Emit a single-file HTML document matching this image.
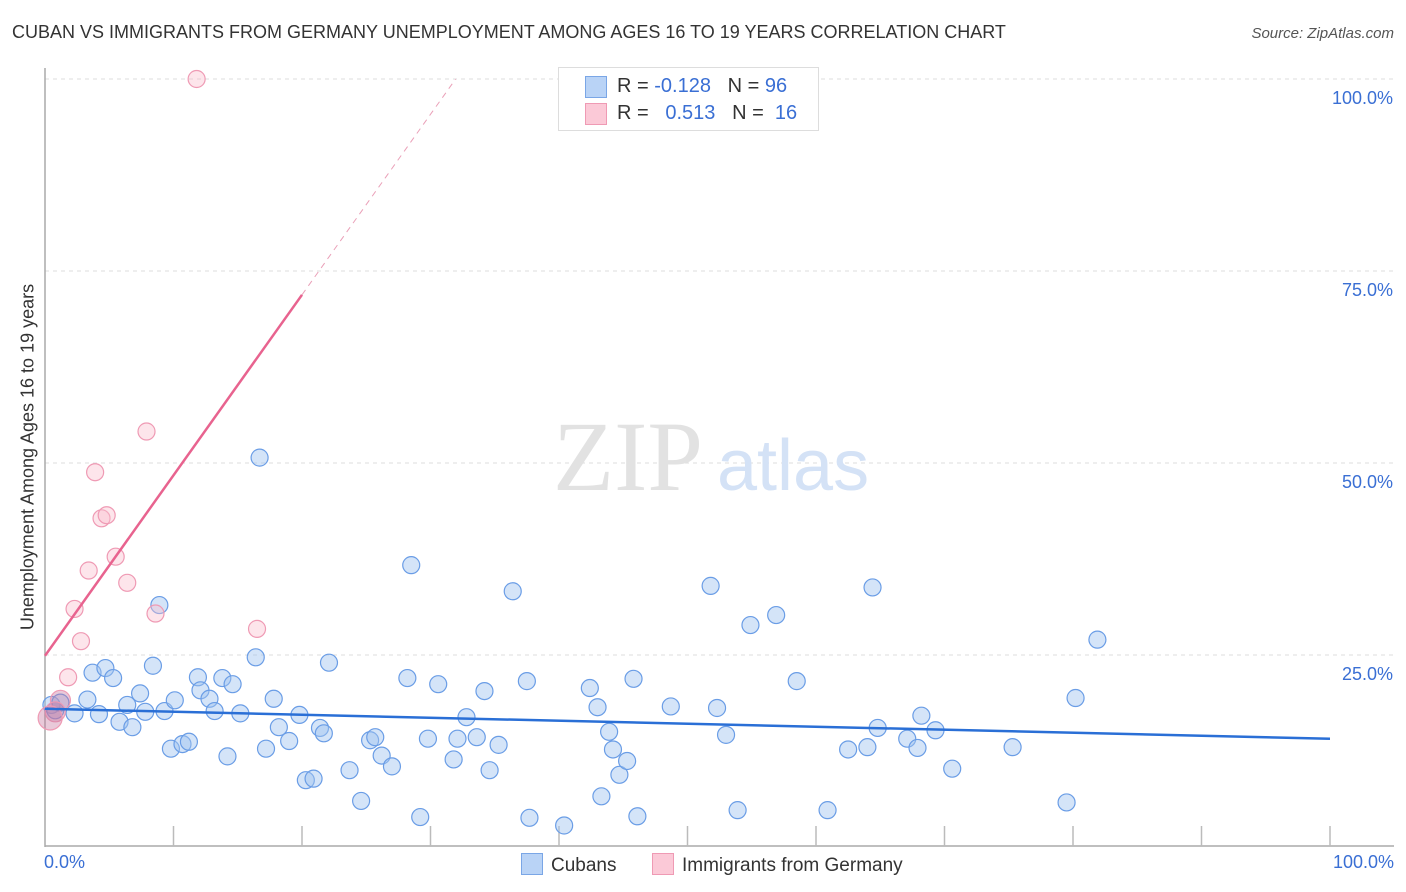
<!DOCTYPE html>
<html><head><meta charset="utf-8"><style>
body{margin:0;background:#fff;font-family:"Liberation Sans",sans-serif;}
#wrap{position:relative;width:1406px;height:892px;overflow:hidden;}
.t{position:absolute;white-space:nowrap;}
</style></head><body>
<div id="wrap">
<div class="t" style="left:12px;top:22px;font-size:18px;color:#333;">CUBAN VS IMMIGRANTS FROM GERMANY UNEMPLOYMENT AMONG AGES 16 TO 19 YEARS CORRELATION CHART</div>
<div class="t" style="right:12px;top:25px;font-size:15px;color:#555;font-style:italic;">Source: ZipAtlas.com</div>
<svg id="svg" width="1406" height="892" style="position:absolute;left:0;top:0"></svg>
</div>
<script>
const blueX=[0.5,0.8,1.2,2.3,3.3,3.7,4.2,4.7,5.3,5.8,6.4,6.8,7.4,7.8,8.4,8.9,9.3,9.8,10.1,10.7,11.2,11.9,12.1,12.8,13.2,13.8,14.2,14.6,15.2,16.4,16.7,17.2,17.8,18.2,19.0,19.8,20.3,20.9,21.4,21.7,22.1,23.7,24.6,25.3,25.7,26.2,27.0,28.2,28.5,29.2,29.8,30.6,31.8,32.1,32.8,33.6,34.2,34.6,35.3,36.4,37.5,37.7,40.4,42.4,43.0,43.3,43.9,44.2,44.7,45.3,45.8,46.1,48.7,51.8,52.3,53.0,53.9,54.9,56.9,58.5,60.9,62.5,64.0,64.4,64.8,67.1,67.9,68.2,69.3,70.6,75.3,79.5,80.2,81.9];
const blueY=[18.5,17.8,18.8,17.4,19.2,22.7,17.3,23.3,22.0,16.3,18.5,15.6,20.0,17.6,23.6,31.5,17.7,12.8,19.1,13.4,13.7,22.1,20.4,19.3,17.7,22.0,11.8,21.2,17.4,24.7,50.7,12.8,19.3,15.6,13.8,17.2,8.7,8.9,15.5,14.8,24.0,10.0,6.0,13.9,14.3,11.9,10.5,22.0,36.7,3.9,14.1,21.2,11.4,14.1,16.9,14.3,20.3,10.0,13.3,33.3,21.6,3.8,2.8,20.7,18.2,6.6,15.0,12.7,9.4,11.2,21.9,4.0,18.3,34.0,18.1,14.6,4.8,28.9,30.2,21.6,4.8,12.7,13.0,33.8,15.5,14.1,12.9,17.1,15.2,10.2,13.0,5.8,19.4,27.0];
const pinkX=[11.8,7.9,3.9,4.4,4.8,5.5,3.4,6.4,2.3,8.6,16.5,2.8,1.8,1.2,0.8,0.4];
const pinkY=[100,54.1,48.8,42.8,43.2,37.8,36.0,34.4,31.0,30.4,28.4,26.8,22.1,19.1,17.6,16.8];
const blueTrend=[18.0,14.1];
const pinkTrend=[24.9,2.35];
const yTicks=[25,50,75,100];
const yTickLabels=["25.0%","50.0%","75.0%","100.0%"];
const NS="http://www.w3.org/2000/svg";
const svg=document.getElementById('svg');
const X0=45,X1=1330,Y0=847,Y1=79;
const sx=v=>X0+(X1-X0)*v/100, sy=v=>Y0-(Y0-Y1)*v/100;
function mk(tag,attrs,parent){const e=document.createElementNS(NS,tag);for(const k in attrs)e.setAttribute(k,attrs[k]);(parent||svg).appendChild(e);return e;}
yTicks.forEach((v,i)=>{
 const g=mk('line',{x1:X0,x2:1394,y1:sy(v),y2:sy(v),stroke:'#ddd','stroke-dasharray':'4,4'});
 
 
 const t=mk('text',{x:1393,y:sy(v)+25,'text-anchor':'end','font-size':18,fill:'#3a6fd4','font-family':'Liberation Sans, sans-serif'});
 t.textContent=yTickLabels[i];
 
 
});
let ax=mk('line',{x1:X0,x2:X0,y1:68,y2:847,stroke:'#aaa','stroke-width':1.5});


ax=mk('line',{x1:X0,x2:1394,y1:846,y2:846,stroke:'#aaa','stroke-width':1.5});


for(let i=1;i<=10;i++){const tk=mk('line',{x1:sx(i*10),x2:sx(i*10),y1:826,y2:846,stroke:'#bbb','stroke-width':1.5});

}
// watermark
let wm=mk('text',{x:553,y:490,'font-size':100,fill:'#e2e2e2','font-family':'Liberation Serif, serif'});wm.textContent='ZIP';


wm=mk('text',{x:717,y:490,'font-size':72,fill:'#d4e2f6','font-family':'Liberation Sans, sans-serif'});wm.textContent='atlas';


blueX.forEach((x,i)=>{const c=mk('circle',{cx:sx(x),cy:sy(blueY[i]),r:8.5,fill:'rgba(160,195,240,0.45)',stroke:'#6a9de6','stroke-width':1.2});

});
pinkX.forEach((x,i)=>{const big=i>=13;const c=mk('circle',{cx:sx(x),cy:sy(pinkY[i]),r:big?(i==15?12:10):8.5,fill:big?'rgba(200,120,160,0.4)':'rgba(250,190,205,0.4)',stroke:'#ef9ab4','stroke-width':1.2});

});
let l=mk('line',{x1:sx(0),y1:sy(blueTrend[0]),x2:sx(100),y2:sy(blueTrend[1]),stroke:'#2a6fd6','stroke-width':2.5});


const pxEnd=20, pxMax=(100-pinkTrend[0])/pinkTrend[1];
l=mk('line',{x1:sx(0),y1:sy(pinkTrend[0]),x2:sx(pxEnd),y2:sy(pinkTrend[0]+pinkTrend[1]*pxEnd),stroke:'#e8638f','stroke-width':2.5});


l=mk('line',{x1:sx(pxEnd),y1:sy(pinkTrend[0]+pinkTrend[1]*pxEnd),x2:sx(pxMax),y2:sy(100),stroke:'#eaa0b8','stroke-width':1,'stroke-dasharray':'6,5'});


</script>
<div class="t" style="left:28px;top:457px;font-size:18px;color:#333;transform:translate(-50%,-50%) rotate(-90deg);">Unemployment Among Ages 16 to 19 years</div>
<div class="t" style="left:44px;top:852px;font-size:18px;color:#3a6fd4;">0.0%</div>
<div class="t" style="right:12px;top:852px;font-size:18px;color:#3a6fd4;">100.0%</div>
<div style="position:absolute;left:558px;top:67px;width:259px;height:62px;border:1px solid #ddd;background:#fff;font-size:20px;">
 <div style="position:absolute;left:26px;top:8px;width:20px;height:20px;background:#b9d3f6;border:1px solid #7aa6e6;"></div>
 <div class="t" style="left:58px;top:7px;color:#333;">R = <span style="color:#3a6fd4">-0.128</span>&nbsp;&nbsp;&nbsp;N = <span style="color:#3a6fd4">96</span></div>
 <div style="position:absolute;left:26px;top:35px;width:20px;height:20px;background:#fbc9d7;border:1px solid #ef9ab4;"></div>
 <div class="t" style="left:58px;top:34px;color:#333;">R = &nbsp;&nbsp;<span style="color:#3a6fd4">0.513</span>&nbsp;&nbsp;&nbsp;N = &nbsp;<span style="color:#3a6fd4">16</span></div>
</div>
<div style="position:absolute;left:521px;top:853px;font-size:19px;color:#333;">
 <span style="display:inline-block;width:20px;height:20px;background:#b9d3f6;border:1px solid #7aa6e6;vertical-align:-4px;margin-right:8px;"></span>Cubans</div>
<div style="position:absolute;left:652px;top:853px;font-size:19px;color:#333;">
 <span style="display:inline-block;width:20px;height:20px;background:#fbc9d7;border:1px solid #ef9ab4;vertical-align:-4px;margin-right:8px;"></span>Immigrants from Germany</div>
</body></html>
